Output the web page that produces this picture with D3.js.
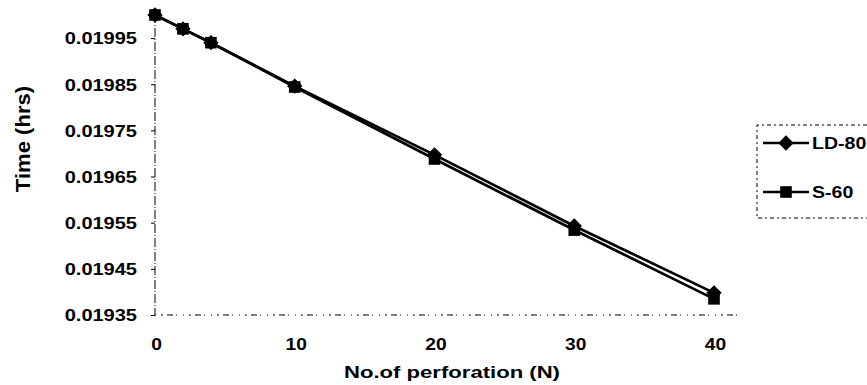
<!DOCTYPE html>
<html>
<head>
<meta charset="utf-8">
<script src="https://cdn.jsdelivr.net/npm/d3@7"></script>
<style>
  html, body { margin: 0; padding: 0; background: #fff; }
  svg { display: block; }
  text { font-family: "Liberation Sans", Arial, sans-serif; fill: #000; }
</style>
</head>
<body>
<svg id="chart" width="867" height="385"></svg>
<script>
// ---- data ----
const perforations = [0, 2, 4, 10, 20, 30, 40];
const ld80 = [0.02, 0.01997, 0.01994, 0.019846, 0.019697, 0.019543, 0.019398];
const s60  = [0.02, 0.01997, 0.01994, 0.019844, 0.019688, 0.019534, 0.019385];
const seriesNames = ["LD-80", "S-60"];
const yTickValues = [0.01935, 0.01945, 0.01955, 0.01965, 0.01975, 0.01985, 0.01995];
const xTickValues = [0, 10, 20, 30, 40];
const xTitle = "No.of perforation (N)";
const yTitle = "Time (hrs)";

const svg = d3.select("#chart");
const x = d3.scaleLinear().domain([0, 40]).range([155, 714]);
const y = d3.scaleLinear().domain([0.01935, 0.02]).range([315, 15]);

// axes lines (scanned, broken look)
svg.append("line")
  .attr("x1", 155).attr("x2", 155).attr("y1", 14).attr("y2", 315)
  .attr("stroke", "#000").attr("stroke-width", 1)
  .attr("stroke-dasharray", "9,2,1,2");
svg.append("line")
  .attr("x1", 155).attr("x2", 742).attr("y1", 315).attr("y2", 315)
  .attr("stroke", "#000").attr("stroke-width", 1)
  .attr("stroke-dasharray", "1,5,2,4,6,3,1,6");

// y axis ticks + labels
const yAxis = d3.axisLeft(y).tickValues(yTickValues).tickSize(4).tickPadding(0)
  .tickFormat(d3.format(".5f"));
const gy = svg.append("g").attr("transform", "translate(155,0)").call(yAxis);
gy.select(".domain").remove();
gy.selectAll(".tick line").attr("stroke", "#000");
gy.selectAll(".tick text")
  .attr("x", 0).attr("dy", "0.36em")
  .attr("transform", "translate(-18,0) scale(1.25,1)")
  .style("font-size", "16px").style("font-weight", "bold").attr("text-anchor", "end");

// x axis labels
const xAxis = d3.axisBottom(x).tickValues(xTickValues).tickSize(0).tickPadding(0);
const gx = svg.append("g").attr("transform", "translate(0,315)").call(xAxis);
gx.select(".domain").remove();
gx.selectAll(".tick text")
  .attr("y", 0).attr("dy", 0)
  .attr("transform", "translate(1,35) scale(1.2,1)")
  .style("font-size", "16px").style("font-weight", "bold");

// titles
svg.append("text")
  .attr("transform", "translate(452,378) scale(1.3,1)")
  .attr("text-anchor", "middle")
  .style("font-size", "17px").style("font-weight", "bold")
  .text(xTitle);
svg.append("text")
  .attr("transform", "translate(30,139) rotate(-90) scale(1.3,1.2)")
  .attr("text-anchor", "middle")
  .style("font-size", "17px").style("font-weight", "bold")
  .text(yTitle);

// lines
const data = [ld80, s60];
const lineGen = d3.line().x((d, i) => x(perforations[i])).y(d => y(d));
data.forEach(vals => {
  svg.append("path").datum(vals)
    .attr("d", lineGen)
    .attr("fill", "none").attr("stroke", "#000").attr("stroke-width", 2.7);
});

const diamond = d3.symbol().type(d3.symbolDiamond2 || d3.symbolDiamond).size(150);
const square = d3.symbol().type(d3.symbolSquare).size(135);

// markers: diamonds first, squares on top
svg.append("g").selectAll("path").data(ld80).join("path")
  .attr("d", diamond)
  .attr("transform", (d, i) => `translate(${x(perforations[i])},${y(d)})`)
  .attr("fill", "#000");
svg.append("g").selectAll("path").data(s60).join("path")
  .attr("d", square)
  .attr("transform", (d, i) => `translate(${x(perforations[i])},${y(d)})`)
  .attr("fill", "#000");

// legend
const lg = svg.append("g");
lg.append("path")
  .attr("d", "M867,125 L757,125 L757,218 L867,218")
  .attr("fill", "none").attr("stroke", "#000").attr("stroke-width", 1)
  .attr("stroke-dasharray", "4,3,2,3");
const legendY = [143, 192];
const legendSymbols = [diamond, square];
seriesNames.forEach((name, i) => {
  lg.append("line")
    .attr("x1", 763).attr("x2", 809).attr("y1", legendY[i]).attr("y2", legendY[i])
    .attr("stroke", "#000").attr("stroke-width", 2.7);
  lg.append("path").attr("d", legendSymbols[i])
    .attr("transform", `translate(786,${legendY[i]})`).attr("fill", "#000");
  lg.append("text")
    .attr("transform", `translate(812,${legendY[i] + 6}) scale(1.15,1)`)
    .style("font-size", "17px").style("font-weight", "bold")
    .text(name);
});
</script>
</body>
</html>
